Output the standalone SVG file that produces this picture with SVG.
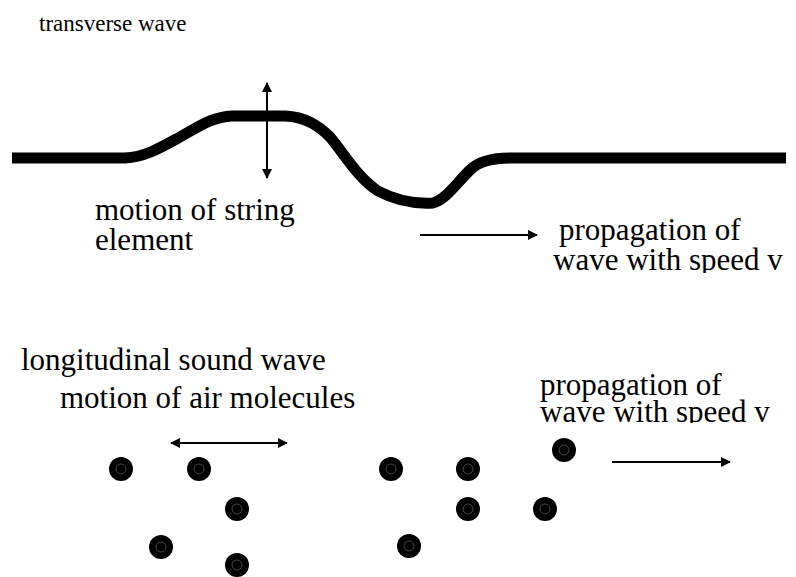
<svg xmlns="http://www.w3.org/2000/svg" width="796" height="577" viewBox="0 0 796 577">
  <style>
    text { font-family: "Liberation Serif", "Times New Roman", Times, Tinos, "Nimbus Roman", "DejaVu Serif", serif; fill: #000; }
    .big { font-size: 31px; }
    .small { font-size: 23px; }
    .arr { stroke: #000; stroke-width: 2; fill: none; }
    .mol { fill: #000; }
    .ring { fill: none; stroke: #777; stroke-width: 0.6; }
  </style>
  <defs>
    <marker id="ah" viewBox="0 0 10 10" refX="9" refY="5" markerWidth="10" markerHeight="10" markerUnits="userSpaceOnUse" orient="auto-start-reverse">
      <path d="M0,0 L10,5 L0,10 Z" fill="#000"/>
    </marker>
    <marker id="ahv" viewBox="0 0 10 10" refX="9" refY="5" markerWidth="10" markerHeight="14" markerUnits="userSpaceOnUse" orient="auto-start-reverse">
      <path d="M0,0 L10,5 L0,10 Z" fill="#000"/>
    </marker>
    <clipPath id="clipTop"><rect x="540" y="200" width="256" height="73"/></clipPath>
    <clipPath id="clipBot"><rect x="530" y="360" width="266" height="63"/></clipPath>
    <g id="m">
      <ellipse cx="0" cy="0" rx="12" ry="12" class="mol"/>
      <circle cx="0" cy="0" r="5" class="ring"/>
    </g>
  </defs>

  <g id="title-transverse">
    <text class="small" x="39" y="31">transverse wave</text>
  </g>

  <g id="string-wave">
    <path d="M12,158 L125,158 C145,157 160,148 180,137 C200,126 212,117 232,116 L285,116 C305,117 318,125 330,137 C345,155 358,178 378,191 C395,200 415,204 433,203 C445,200 455,185 470,170 C478,162 490,158 510,158 L786,158" fill="none" stroke="#000" stroke-width="11" stroke-linejoin="round"/>
  </g>

  <g id="label-string">
    <text class="big" x="95" y="220">motion of string</text>
    <text class="big" x="95" y="250">element</text>
  </g>

  <g id="label-prop-top" clip-path="url(#clipTop)">
    <text class="big" x="559" y="240">propagation of</text>
    <text class="big" x="553" y="270">wave with speed v</text>
  </g>

  <g id="title-longitudinal">
    <text class="big" x="21" y="370">longitudinal sound wave</text>
    <text class="big" x="60" y="408">motion of air molecules</text>
  </g>

  <g id="label-prop-bottom" clip-path="url(#clipBot)">
    <text class="big" x="540" y="395">propagation of</text>
    <text class="big" x="540" y="422">wave with speed v</text>
  </g>

  <g id="connectors">
    <line class="arr" x1="267" y1="83" x2="267" y2="178" marker-start="url(#ahv)" marker-end="url(#ahv)"/>
    <line class="arr" x1="420" y1="235" x2="537" y2="235" marker-end="url(#ah)"/>
    <line class="arr" x1="171" y1="443" x2="287" y2="443" marker-start="url(#ah)" marker-end="url(#ah)"/>
    <line class="arr" x1="612" y1="462" x2="730" y2="462" marker-end="url(#ah)"/>
  </g>

  <g id="molecules">
    <use href="#m" x="121" y="469"/>
    <use href="#m" x="199" y="469"/>
    <use href="#m" x="237" y="509"/>
    <use href="#m" x="161" y="547"/>
    <use href="#m" x="237" y="565"/>
    <use href="#m" x="391" y="469"/>
    <use href="#m" x="468" y="469"/>
    <use href="#m" x="564" y="450"/>
    <use href="#m" x="468" y="509"/>
    <use href="#m" x="545" y="509"/>
    <use href="#m" x="409" y="546"/>
  </g>
</svg>
